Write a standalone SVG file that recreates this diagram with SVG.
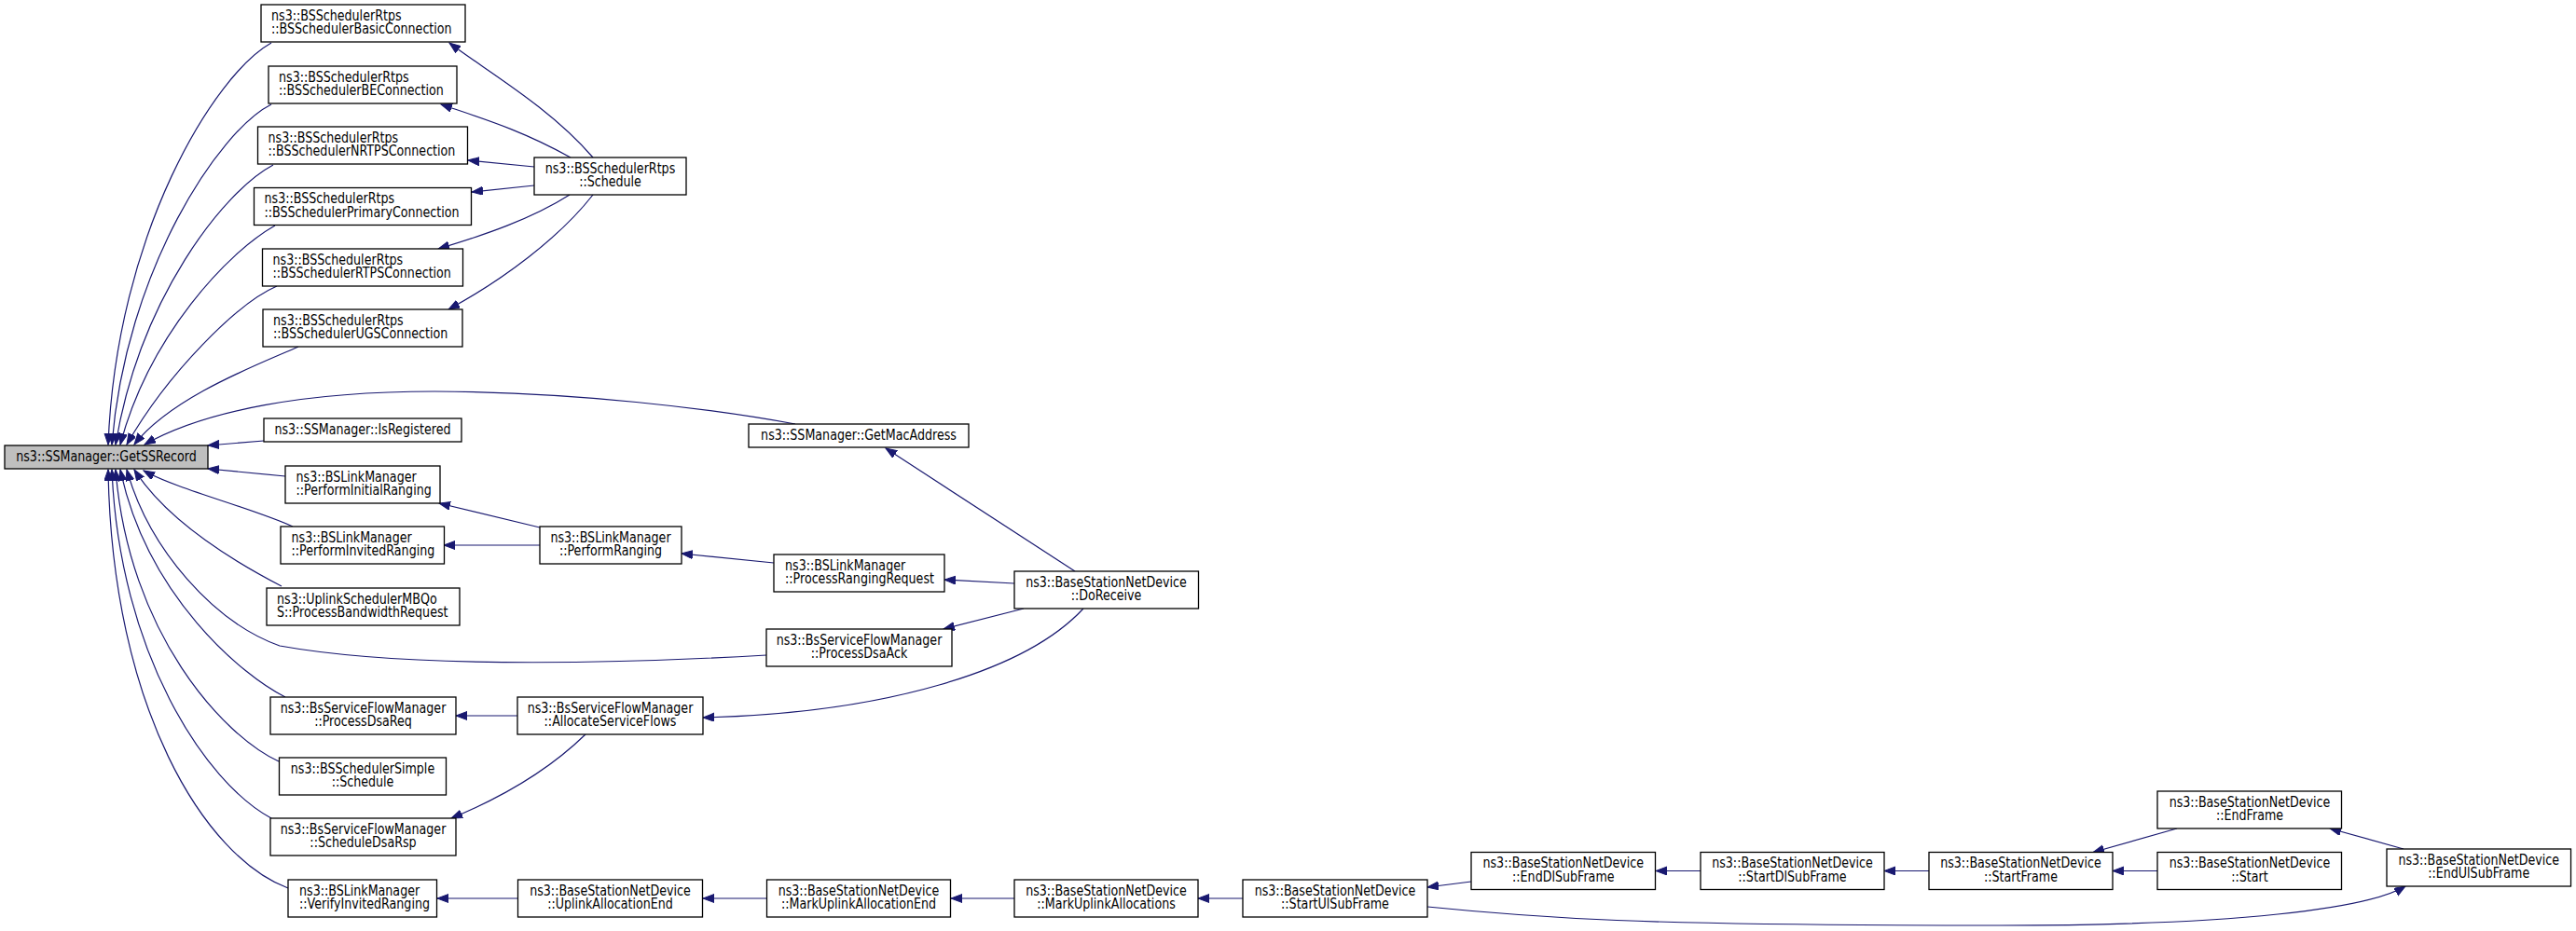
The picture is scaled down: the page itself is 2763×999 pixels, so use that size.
<svg xmlns="http://www.w3.org/2000/svg" width="2763" height="999" viewBox="0 0 2763 999">
<style>
.node rect{fill:#ffffff;stroke:#000000;stroke-width:1.3}
.root rect{fill:#bfbfbf}
text{font-family:"DejaVu Sans","Liberation Sans",Arial,sans-serif;font-size:15px;fill:#000000}
.c{text-anchor:middle}
.edges path{fill:none;stroke:#191970;stroke-width:1.2;marker-end:url(#arr)}
</style>
<defs>
<marker id="arr" markerUnits="userSpaceOnUse" viewBox="0 0 14 10" markerWidth="14" markerHeight="10" refX="12" refY="4.5" orient="auto">
<path d="M0,0 L12,4.5 L0,9 z" fill="#191970" stroke="#191970" stroke-width="1"/>
</marker>
</defs>
<rect width="2763" height="999" fill="#ffffff"/>
<g class="edges" id="edges">
<path d="M291,46 C230,80 125,250 116,477"/>
<path d="M291,112 C235,140 135,290 120,477"/>
<path d="M293,177 C240,205 150,320 124,477"/>
<path d="M295,242 C245,270 160,360 129,477"/>
<path d="M297,307 C255,325 180,400 136,477"/>
<path d="M320,372 C280,390 185,425 144,477"/>
<path d="M853,455 C760,438 620,421 466,420 C330,420 220,440 155,477"/>
<path d="M283,473 L223,478"/>
<path d="M306,511 L223,503"/>
<path d="M314,565 C270,545 190,525 154,505"/>
<path d="M302,629 C250,602 180,560 144,504"/>
<path d="M822,703 C700,710 450,720 300,693 C230,668 160,590 136,504"/>
<path d="M306,748 C260,725 158,640 129,504"/>
<path d="M299,817 C240,790 138,680 124,504"/>
<path d="M291,878 C220,840 128,700 120,504"/>
<path d="M309,953 C220,920 120,760 116,504"/>
<path d="M636,169 C590,115 520,75 482,46"/>
<path d="M612,169 C560,140 520,128 473,112"/>
<path d="M573,179 L502,172"/>
<path d="M573,199 L506,206"/>
<path d="M611,209 C570,235 520,252 470,267"/>
<path d="M636,209 C600,255 540,300 481,332"/>
<path d="M579,566 L471,540"/>
<path d="M579,585 L476,585"/>
<path d="M830,604 L731,594"/>
<path d="M555,768 L489,768"/>
<path d="M628,788 C590,825 540,855 484,878"/>
<path d="M556,964 L469,964"/>
<path d="M1153,613 L950,481"/>
<path d="M1088,626 L1013,622"/>
<path d="M1098,653 L1012,675"/>
<path d="M1162,653 C1100,720 950,765 754,770"/>
<path d="M822,964 L754,964"/>
<path d="M1088,964 L1020,964"/>
<path d="M1333,964 L1285,964"/>
<path d="M1578,946 L1531,952"/>
<path d="M1824,934.5 L1776,934.5"/>
<path d="M2069,934.5 L2021,934.5"/>
<path d="M2314,934.5 L2266,934.5"/>
<path d="M2335,889 L2245,914.5"/>
<path d="M2578,911 L2499,889"/>
<path d="M1531,973 C1650,985 1750,993 2144,993 C2400,993 2540,975 2580,951"/>
</g>
<g id="n0" class="node root"><rect x="5" y="478" width="218" height="25"/><text class="c" transform="translate(114 495) scale(.845 1)">ns3::SSManager::GetSSRecord</text></g>
<g id="n1" class="node"><rect x="280" y="5" width="219" height="40"/><text transform="translate(291 21.5) scale(.845 1)">ns3::BSSchedulerRtps</text><text transform="translate(291 36) scale(.845 1)">::BSSchedulerBasicConnection</text></g>
<g id="n2" class="node"><rect x="288" y="71" width="202" height="40"/><text transform="translate(299 87.5) scale(.845 1)">ns3::BSSchedulerRtps</text><text transform="translate(299 102) scale(.845 1)">::BSSchedulerBEConnection</text></g>
<g id="n3" class="node"><rect x="276.5" y="136" width="225" height="40"/><text transform="translate(287.5 152.5) scale(.845 1)">ns3::BSSchedulerRtps</text><text transform="translate(287.5 167) scale(.845 1)">::BSSchedulerNRTPSConnection</text></g>
<g id="n4" class="node"><rect x="272.5" y="201.5" width="233" height="40"/><text transform="translate(283.5 218) scale(.845 1)">ns3::BSSchedulerRtps</text><text transform="translate(283.5 232.5) scale(.845 1)">::BSSchedulerPrimaryConnection</text></g>
<g id="n5" class="node"><rect x="281.5" y="267" width="215" height="40"/><text transform="translate(292.5 283.5) scale(.845 1)">ns3::BSSchedulerRtps</text><text transform="translate(292.5 298) scale(.845 1)">::BSSchedulerRTPSConnection</text></g>
<g id="n6" class="node"><rect x="282" y="332" width="214" height="40"/><text transform="translate(293 348.5) scale(.845 1)">ns3::BSSchedulerRtps</text><text transform="translate(293 363) scale(.845 1)">::BSSchedulerUGSConnection</text></g>
<g id="n7" class="node"><rect x="283" y="449" width="212" height="25"/><text class="c" transform="translate(389 466) scale(.845 1)">ns3::SSManager::IsRegistered</text></g>
<g id="n8" class="node"><rect x="306" y="500" width="166" height="40"/><text transform="translate(317.5 516.5) scale(.845 1)">ns3::BSLinkManager</text><text transform="translate(317.5 531) scale(.845 1)">::PerformInitialRanging</text></g>
<g id="n9" class="node"><rect x="301" y="565" width="175.5" height="40"/><text transform="translate(312.5 581.5) scale(.845 1)">ns3::BSLinkManager</text><text transform="translate(312.5 596) scale(.845 1)">::PerformInvitedRanging</text></g>
<g id="n10" class="node"><rect x="286" y="631" width="207" height="40"/><text transform="translate(297 647.5) scale(.845 1)">ns3::UplinkSchedulerMBQo</text><text transform="translate(297 662) scale(.845 1)">S::ProcessBandwidthRequest</text></g>
<g id="n11" class="node"><rect x="290" y="748" width="199" height="40"/><text class="c" transform="translate(389.5 764.5) scale(.845 1)">ns3::BsServiceFlowManager</text><text class="c" transform="translate(389.5 779) scale(.845 1)">::ProcessDsaReq</text></g>
<g id="n12" class="node"><rect x="299.5" y="813" width="179" height="40"/><text class="c" transform="translate(389 829.5) scale(.845 1)">ns3::BSSchedulerSimple</text><text class="c" transform="translate(389 844) scale(.845 1)">::Schedule</text></g>
<g id="n13" class="node"><rect x="290" y="878" width="199" height="40"/><text class="c" transform="translate(389.5 894.5) scale(.845 1)">ns3::BsServiceFlowManager</text><text class="c" transform="translate(389.5 909) scale(.845 1)">::ScheduleDsaRsp</text></g>
<g id="n14" class="node"><rect x="309" y="944" width="159.5" height="40"/><text transform="translate(321 960.5) scale(.845 1)">ns3::BSLinkManager</text><text transform="translate(321 975) scale(.845 1)">::VerifyInvitedRanging</text></g>
<g id="n15" class="node"><rect x="573" y="169" width="163" height="40"/><text class="c" transform="translate(654.5 185.5) scale(.845 1)">ns3::BSSchedulerRtps</text><text class="c" transform="translate(654.5 200) scale(.845 1)">::Schedule</text></g>
<g id="n16" class="node"><rect x="803" y="455" width="236" height="25"/><text class="c" transform="translate(921 472) scale(.845 1)">ns3::SSManager::GetMacAddress</text></g>
<g id="n17" class="node"><rect x="579" y="565" width="152" height="40"/><text class="c" transform="translate(655 581.5) scale(.845 1)">ns3::BSLinkManager</text><text class="c" transform="translate(655 596) scale(.845 1)">::PerformRanging</text></g>
<g id="n18" class="node"><rect x="830" y="595" width="183" height="40"/><text transform="translate(842 611.5) scale(.845 1)">ns3::BSLinkManager</text><text transform="translate(842 626) scale(.845 1)">::ProcessRangingRequest</text></g>
<g id="n19" class="node"><rect x="822" y="675" width="199" height="40"/><text class="c" transform="translate(921.5 691.5) scale(.845 1)">ns3::BsServiceFlowManager</text><text class="c" transform="translate(921.5 706) scale(.845 1)">::ProcessDsaAck</text></g>
<g id="n20" class="node"><rect x="555" y="748" width="199" height="40"/><text class="c" transform="translate(654.5 764.5) scale(.845 1)">ns3::BsServiceFlowManager</text><text class="c" transform="translate(654.5 779) scale(.845 1)">::AllocateServiceFlows</text></g>
<g id="n21" class="node"><rect x="555.5" y="944" width="198" height="40"/><text class="c" transform="translate(654.5 960.5) scale(.845 1)">ns3::BaseStationNetDevice</text><text class="c" transform="translate(654.5 975) scale(.845 1)">::UplinkAllocationEnd</text></g>
<g id="n22" class="node"><rect x="822.5" y="944" width="197" height="40"/><text class="c" transform="translate(921 960.5) scale(.845 1)">ns3::BaseStationNetDevice</text><text class="c" transform="translate(921 975) scale(.845 1)">::MarkUplinkAllocationEnd</text></g>
<g id="n23" class="node"><rect x="1088" y="613" width="197.5" height="40"/><text class="c" transform="translate(1186.5 629.5) scale(.845 1)">ns3::BaseStationNetDevice</text><text class="c" transform="translate(1186.5 644) scale(.845 1)">::DoReceive</text></g>
<g id="n24" class="node"><rect x="1088" y="944" width="197" height="40"/><text class="c" transform="translate(1186.5 960.5) scale(.845 1)">ns3::BaseStationNetDevice</text><text class="c" transform="translate(1186.5 975) scale(.845 1)">::MarkUplinkAllocations</text></g>
<g id="n25" class="node"><rect x="1333" y="944" width="198" height="40"/><text class="c" transform="translate(1432 960.5) scale(.845 1)">ns3::BaseStationNetDevice</text><text class="c" transform="translate(1432 975) scale(.845 1)">::StartUlSubFrame</text></g>
<g id="n26" class="node"><rect x="1578" y="914.5" width="197.5" height="40"/><text class="c" transform="translate(1676.8 931) scale(.845 1)">ns3::BaseStationNetDevice</text><text class="c" transform="translate(1676.8 945.5) scale(.845 1)">::EndDlSubFrame</text></g>
<g id="n27" class="node"><rect x="1824" y="914.5" width="197" height="40"/><text class="c" transform="translate(1922.5 931) scale(.845 1)">ns3::BaseStationNetDevice</text><text class="c" transform="translate(1922.5 945.5) scale(.845 1)">::StartDlSubFrame</text></g>
<g id="n28" class="node"><rect x="2069" y="914.5" width="197" height="40"/><text class="c" transform="translate(2167.5 931) scale(.845 1)">ns3::BaseStationNetDevice</text><text class="c" transform="translate(2167.5 945.5) scale(.845 1)">::StartFrame</text></g>
<g id="n29" class="node"><rect x="2314" y="849" width="197.5" height="40"/><text class="c" transform="translate(2413 865.5) scale(.845 1)">ns3::BaseStationNetDevice</text><text class="c" transform="translate(2413 880) scale(.845 1)">::EndFrame</text></g>
<g id="n30" class="node"><rect x="2314" y="914.5" width="197.5" height="40"/><text class="c" transform="translate(2413 931) scale(.845 1)">ns3::BaseStationNetDevice</text><text class="c" transform="translate(2413 945.5) scale(.845 1)">::Start</text></g>
<g id="n31" class="node"><rect x="2560" y="911" width="197.5" height="40"/><text class="c" transform="translate(2658.7 927.5) scale(.845 1)">ns3::BaseStationNetDevice</text><text class="c" transform="translate(2658.7 942) scale(.845 1)">::EndUlSubFrame</text></g>
</svg>
